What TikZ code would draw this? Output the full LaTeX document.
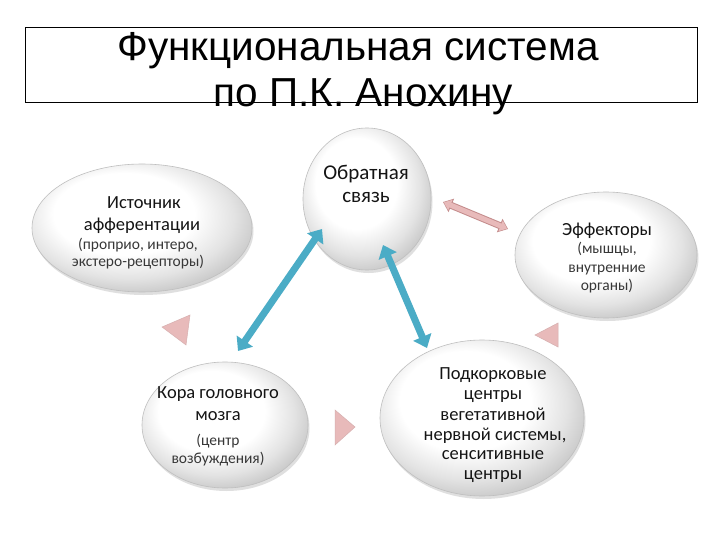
\documentclass[tikz,border=0pt]{standalone}
\usepackage{fontspec}
\setmainfont{Carlito}
\newfontfamily\titlefont{Liberation Sans}
\usetikzlibrary{shapes.geometric,shadows,arrows.meta}
\definecolor{tealA}{RGB}{75,172,198}
\definecolor{pinkF}{RGB}{232,186,186}
\definecolor{pinkD}{RGB}{196,140,140}
\definecolor{txtA}{RGB}{20,20,20}
\definecolor{txtB}{RGB}{55,55,55}
\pgfdeclareradialshading{bubshade}{\pgfpoint{-6bp}{8bp}}{color(0bp)=(white); color(16bp)=(white); color(24bp)=(gray!22); color(30bp)=(gray!45); color(50bp)=(gray!45)}
\begin{document}
\begin{tikzpicture}[x=1pt,y=-1pt,
  bubble/.style={ellipse, draw=gray!50, line width=0.6pt,
    shading=bubshade,
    drop shadow={opacity=0.25, shadow xshift=1.5pt, shadow yshift=-3pt}},
  big/.style={anchor=base, inner sep=0pt, text=txtA, font=\fontsize{18.5}{21}\selectfont},
  small/.style={anchor=base, inner sep=0pt, text=txtB, font=\fontsize{15.5}{18}\selectfont},
  bluearrow/.style={draw=tealA, line width=7pt, {Triangle[width=19pt,length=12pt]}-{Triangle[width=19pt,length=12pt]}},
  tri/.style={fill=pinkF, draw=pinkD!70, line width=0.5pt}
]
\useasboundingbox (0,0) rectangle (720,540);
\fill[white] (0,0) rectangle (720,540);

% title
\node[draw=black, line width=0.8pt, minimum width=672pt, minimum height=75pt, inner sep=0pt] (titlebox) at (361,64.5) {};
\node[anchor=base, inner sep=0pt, font=\titlefont\fontsize{40.5}{46}\selectfont] (title1) at (358,61) {Функциональная система};
\node[anchor=base, inner sep=0pt, font=\titlefont\fontsize{40.5}{46}\selectfont] (title2) at (363,107) {по П.К. Анохину};

% bubbles
\node[bubble, minimum width=220pt, minimum height=128pt] (ist) at (142,228) {};
\node[bubble, minimum width=128pt, minimum height=142pt] (obr) at (367,199) {};
\node[bubble, minimum width=182pt, minimum height=126pt] (eff) at (606,255) {};
\node[bubble, minimum width=166pt, minimum height=126pt] (kora) at (225,425) {};
\node[bubble, minimum width=204pt, minimum height=156pt] (pod) at (482,418) {};

% texts
\node[big] (ist1) at (144,209) {Источник};
\node[big] (ist2) at (142,230) {афферентации};
\node[small] (ist3) at (138,249) {(проприо, интеро,};
\node[small] (ist4) at (138,266) {экстеро-рецепторы)};

\node[big, font=\fontsize{21}{24}\selectfont] (obr1) at (366,180) {Обратная};
\node[big, font=\fontsize{21}{24}\selectfont] (obr2) at (366,203) {связь};

\node[big] (eff1) at (607,236) {Эффекторы};
\node[small] (eff2) at (607,254) {(мышцы,};
\node[small] (eff3) at (607,272) {внутренние};
\node[small] (eff4) at (607,290) {органы)};

\node[big] (kora1) at (218,398) {Кора головного};
\node[big] (kora2) at (218,420) {мозга};
\node[small] (kora3) at (218,445) {(центр};
\node[small] (kora4) at (218,463) {возбуждения)};

\node[big] (pod1) at (493,379) {Подкорковые};
\node[big] (pod2) at (493,399) {центры};
\node[big] (pod3) at (493,420) {вегетативной};
\node[big] (pod4) at (495,440) {нервной системы,};
\node[big] (pod5) at (493,459) {сенситивные};
\node[big] (pod6) at (493,479) {центры};

% connectors
\coordinate (a1s) at (238,351);
\coordinate (a1e) at (322,229);
\coordinate (a2s) at (383,245);
\coordinate (a2e) at (427,348);
\draw[bluearrow] (a1s) -- (a1e);
\draw[bluearrow] (a2s) -- (a2e);

\coordinate (p1) at (443,202);
\coordinate (p2) at (508,229);
\draw[draw=pinkD, line width=7pt, {Triangle[width=14pt,length=9pt]}-{Triangle[width=14pt,length=9pt]}] (p1) -- (p2);
\draw[draw=pinkF, line width=5pt, shorten <=1pt, shorten >=1pt, {Triangle[width=11pt,length=7pt]}-{Triangle[width=11pt,length=7pt]}] (p1) -- (p2);

% triangles
\path[tri] (162,327) -- (190,315) -- (186,345) -- cycle;
\path[tri] (335,410) -- (355,427) -- (335,445) -- cycle;
\path[tri] (535,335) -- (558,323) -- (558,347) -- cycle;
\end{tikzpicture}
\end{document}
